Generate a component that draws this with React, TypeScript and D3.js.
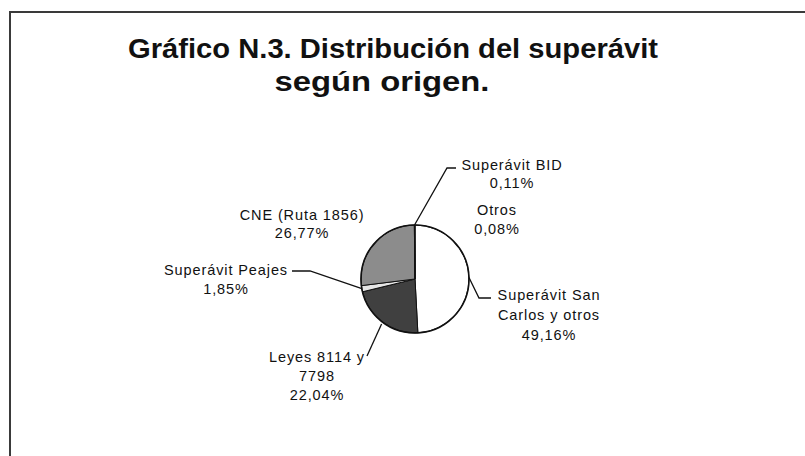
import * as d3 from "d3";

const labels = [
  "Superávit San Carlos y otros",
  "Leyes 8114 y 7798",
  "Superávit Peajes",
  "CNE (Ruta 1856)",
  "Superávit BID",
  "Otros",
];
const shares = [49.16, 22.04, 1.85, 26.77, 0.11, 0.08];
const shareText = ["49,16%", "22,04%", "1,85%", "26,77%", "0,11%", "0,08%"];
const fills = ["#ffffff", "#404040", "#e6e6e6", "#8c8c8c", "#111111", "#111111"];

// text lines as they are wrapped in the original chart
const labelLines = [
  ["Superávit San", "Carlos y otros"],
  ["Leyes 8114 y", "7798"],
  ["Superávit Peajes"],
  ["CNE (Ruta 1856)"],
  ["Superávit BID"],
  ["Otros"],
];

const width = 805;
const height = 456;
const cx = 415;
const cy = 279;
const radius = 54;
const font = "'Liberation Sans', Arial, sans-serif";

// where each label block sits (center x, first line y, line step) and how its leader bends
const labelPos: { x: number; y: number; step: number; leader?: [number, number][] }[] = [
  { x: 549, y: 300, step: 20, leader: [[479, 298], [491, 298]] },
  { x: 317, y: 362, step: 19 },
  { x: 226, y: 275, step: 18.5, leader: [[310, 271], [292, 271]] },
  { x: 302, y: 220, step: 17.5 },
  { x: 512, y: 170, step: 18, leader: [[447, 168], [456, 168]] },
  { x: 497, y: 215, step: 18.5 },
];
// Leyes leader: elbow below the pie edge, then up to the label
const leyesLeaderEnd: [number, number] = [367, 356];

export default function App() {
  const data = labels.map((l, i) => ({ label: l, value: shares[i], i }));
  const pie = d3
    .pie<{ label: string; value: number; i: number }>()
    .sort(null)
    .value((d) => d.value);
  const arcs = pie(data);
  const arc = d3
    .arc<d3.PieArcDatum<{ label: string; value: number; i: number }>>()
    .innerRadius(0)
    .outerRadius(radius);

  const edgePoint = (a: d3.PieArcDatum<unknown>, r = radius): [number, number] => {
    const mid = (a.startAngle + a.endAngle) / 2;
    return [cx + r * Math.sin(mid), cy - r * Math.cos(mid)];
  };

  return (
    <svg
      width={width}
      height={height}
      style={{ position: "absolute", left: 0, top: 0, background: "#fff" }}
    >
      <path d={`M10,${height} V12 H${width}`} fill="none" stroke="#3a3a3a" strokeWidth={2} />

      <g fontFamily={font} fontWeight="bold" fontSize={27} fill="#111" textAnchor="middle">
        <text x={393} y={58} textLength={530} lengthAdjust="spacingAndGlyphs">
          Gráfico N.3. Distribución del superávit
        </text>
        <text x={382} y={91} textLength={215} lengthAdjust="spacingAndGlyphs">
          según origen.
        </text>
      </g>

      <g transform={`translate(${cx},${cy})`}>
        {arcs.map((a) => (
          <path
            key={a.data.label}
            d={arc(a) ?? ""}
            fill={fills[a.data.i]}
            stroke="#111"
            strokeWidth={1}
          />
        ))}
        <circle r={radius} fill="none" stroke="#111" strokeWidth={1.6} />
      </g>

      <g fill="none" stroke="#111" strokeWidth={1.3}>
        {arcs.map((a) => {
          const i = a.data.i;
          const p = labelPos[i];
          let pts: [number, number][] | null = null;
          if (p.leader) pts = [edgePoint(a), ...p.leader];
          if (i === 1) pts = [edgePoint(a, radius + 2), leyesLeaderEnd];
          if (!pts) return null;
          return <path key={a.data.label} d={d3.line()(pts) ?? ""} />;
        })}
      </g>

      <g fontFamily={font} fontSize={14.5} letterSpacing={0.9} fill="#111" textAnchor="middle">
        {arcs.map((a) => {
          const p = labelPos[a.data.i];
          const lines = [...labelLines[a.data.i], shareText[a.data.i]];
          return (
            <text key={a.data.label} x={p.x} y={p.y}>
              {lines.map((t, k) => (
                <tspan key={k} x={p.x} dy={k === 0 ? 0 : p.step}>
                  {t}
                </tspan>
              ))}
            </text>
          );
        })}
      </g>
    </svg>
  );
}
